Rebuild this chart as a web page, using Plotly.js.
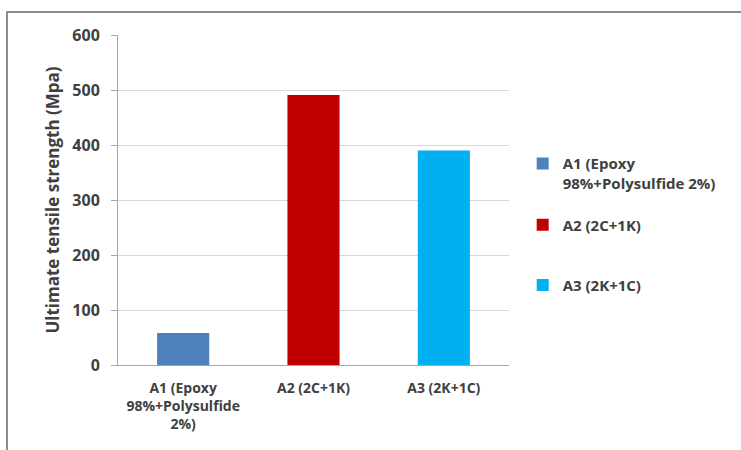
<!DOCTYPE html>
<html>
<head>
<meta charset="utf-8">
<script src="https://cdn.plot.ly/plotly-3.0.1.min.js"></script>
<style>
  html, body { margin: 0; padding: 0; background: #fff; }
  #wrap { position: relative; width: 741px; height: 450px; }
  #chart { width: 741px; height: 450px; }
  #frame { position: absolute; left: 6px; top: 11px; right: -2px; bottom: -2px;
           border-top: 2px solid #8c8c8c; border-left: 2px solid #8c8c8c; pointer-events: none; }
</style>
</head>
<body>
<div id="wrap">
  <div id="chart"></div>
  <div id="frame"></div>
</div>
<script>
const categories = ["A1 (Epoxy<br>98%+Polysulfide<br>2%)", "A2 (2C+1K)", "A3 (2K+1C)"];
const seriesNames = ["A1 (Epoxy<br>98%+Polysulfide 2%)", "A2 (2C+1K)", "A3 (2K+1C)"];
const values = [58, 491, 390];
const colors = ["#4F81BD", "#C00000", "#00B0F0"];
const yTitle = "Ultimate tensile strength (Mpa)";

const fam = "Open Sans, Liberation Sans, sans-serif";
const txt = "#404040";
const legendIds = ["legend", "legend2", "legend3"];
const legendY = [0.66, 0.424, 0.242];

const traces = categories.map((c, i) => ({
  type: "bar",
  name: seriesNames[i],
  x: [c],
  y: [values[i]],
  marker: { color: colors[i] },
  width: 0.4,
  legend: legendIds[i],
  hoverinfo: "skip"
}));

const legendBase = (y, anchor) => ({
  x: 1.035, y: y, xanchor: "left", yanchor: anchor,
  font: { family: fam, color: txt, size: 15, weight: "bold" },
  itemwidth: 30, valign: "top", bgcolor: "rgba(0,0,0,0)"
});

const layout = {
  width: 741, height: 450,
  margin: { l: 118, r: 232, t: 35, b: 85 },
  paper_bgcolor: "#ffffff",
  plot_bgcolor: "#ffffff",
  font: { family: fam, color: txt, size: 12, weight: "bold" },
  barmode: "overlay",
  showlegend: true,
  legend: legendBase(legendY[0], "top"),
  legend2: legendBase(legendY[1], "middle"),
  legend3: legendBase(legendY[2], "middle"),
  xaxis: {
    type: "category",
    categoryorder: "array", categoryarray: categories,
    showline: true, linecolor: "#a6a6a6", linewidth: 1,
    ticks: "", showgrid: false,
    ticklabelstandoff: 10,
    tickfont: { family: fam, color: txt, size: 14, weight: "bold" }
  },
  yaxis: {
    range: [0, 600], dtick: 100, tick0: 0,
    showline: true, linecolor: "#a6a6a6", linewidth: 1,
    ticks: "outside", ticklen: 6, tickcolor: "#a6a6a6",
    ticklabelstandoff: 8,
    gridcolor: "#d9d9d9", gridwidth: 1, zeroline: false,
    tickfont: { family: fam, color: txt, size: 16, weight: "bold" },
    title: { text: yTitle, font: { family: fam, color: txt, size: 17, weight: "bold" }, standoff: 8 }
  }
};

Plotly.newPlot("chart", traces, layout, { displayModeBar: false, staticPlot: true });
</script>
</body>
</html>
